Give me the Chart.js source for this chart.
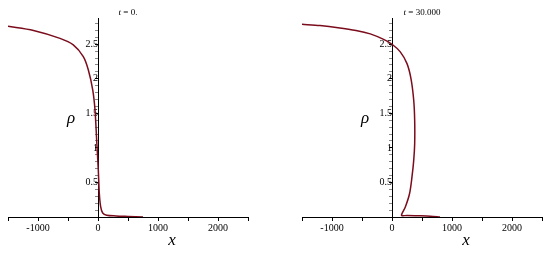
<!DOCTYPE html>
<html lang="en">
<head>
    <meta charset="utf-8"/>
    <script src="https://cdn.jsdelivr.net/npm/chart.js@4.4.0/dist/chart.umd.min.js"></script>
    <style>
        body { margin: 0; background: #fff; }
        canvas { position: absolute; top: 0; }
    </style>
</head>
<body>
    <canvas id="left" width="275" height="257" style="left:0px"></canvas>
    <canvas id="right" width="275" height="257" style="left:275px"></canvas>
    <script>
        // t = 0.
        const x0 = [-1500, -1075, -633, -412, -245, -162, -88, -50, -22, 5, 22, 45, 78, 145, 300, 500, 750];
        const rho0 = [2.76, 2.70, 2.585, 2.49, 2.32, 2.13, 1.84, 1.55, 1.11, 0.68, 0.34, 0.145, 0.058, 0.025, 0.015, 0.008, 0.0];
        // t = 30.000
        const x30 = [-1500, -1200, -900, -600, -362, -140, 0, 138, 250, 317, 362, 378, 378, 362, 333, 293, 222, 167, 160, 250, 450, 640, 800];
        const rho30 = [2.79, 2.77, 2.74, 2.70, 2.65, 2.57, 2.50, 2.39, 2.22, 2.0, 1.69, 1.40, 1.06, 0.82, 0.58, 0.34, 0.145, 0.05, 0.02, 0.022, 0.018, 0.012, 0.0];

        const xTicksMin = -1500, xTicksMax = 2500;
        const rhoMax = 2.88;

        const serif = "'Liberation Serif', 'DejaVu Serif', serif";

        // titles and axis names
        const labelsPlugin = {
            id: 'maple',
            afterDraw(chart, args, opts) {
                const ctx = chart.ctx;
                const xs = chart.scales.x, ys = chart.scales.y;
                ctx.save();
                ctx.fillStyle = '#000';
                ctx.textBaseline = 'middle';

                // title: italic t, then the rest
                ctx.font = 'italic 9px ' + serif;
                const wt = ctx.measureText('t').width;
                ctx.font = '9px ' + serif;
                const rest = ' = ' + opts.time;
                const wr = ctx.measureText(rest).width;
                let tx = xs.getPixelForValue(500) - (wt + wr) / 2;
                ctx.textAlign = 'left';
                ctx.font = 'italic 9px ' + serif;
                ctx.fillText('t', tx, 13);
                ctx.font = '9px ' + serif;
                ctx.fillText(rest, tx + wt, 13);

                ctx.textAlign = 'center';
                ctx.font = 'italic 17px ' + serif;
                ctx.fillText('\u03C1', xs.getPixelForValue(-450), ys.getPixelForValue(1.43));
                ctx.fillText('x', xs.getPixelForValue(1233), ys.getPixelForValue(0) + 24);
                ctx.restore();
            }
        };

        function makeChart(id, xs, ys, time, pad) {
            const points = xs.map((v, i) => ({x: v, y: ys[i]}));
            return new Chart(document.getElementById(id), {
                type: 'scatter',
                data: {
                    datasets: [{
                        data: points,
                        showLine: true,
                        borderColor: '#7b0c1c',
                        borderWidth: 1.5,
                        pointRadius: 0,
                        tension: 0.3
                    }]
                },
                options: {
                    responsive: false,
                    animation: false,
                    layout: { padding: pad },
                    plugins: {
                        legend: { display: false },
                        tooltip: { enabled: false },
                        maple: { time: time }
                    },
                    scales: {
                        x: {
                            type: 'linear',
                            position: { y: 0 },
                            min: xTicksMin,
                            max: xTicksMax,
                            border: { display: true, color: '#000', width: 1 },
                            grid: { drawOnChartArea: false, tickLength: 3, color: '#000' },
                            ticks: {
                                stepSize: 500,
                                maxRotation: 0,
                                autoSkip: false,
                                padding: 2,
                                color: '#000',
                                font: { family: serif, size: 10 },
                                callback: v => (v % 1000 === 0 ? String(v) : '')
                            }
                        },
                        y: {
                            type: 'linear',
                            position: { x: 0 },
                            min: 0,
                            max: rhoMax,
                            border: { display: true, color: '#000', width: 1 },
                            grid: {
                                drawOnChartArea: false,
                                tickLength: 3,
                                color: ctx => {
                                    const v = ctx.tick ? ctx.tick.value : 0;
                                    return Math.abs(v * 2 - Math.round(v * 2)) < 1e-6 ? '#000' : '#888';
                                }
                            },
                            ticks: {
                                stepSize: 0.1,
                                includeBounds: false,
                                autoSkip: false,
                                padding: 1,
                                color: '#000',
                                font: { family: serif, size: 10 },
                                callback: v => {
                                    if (v < 0.01) return '';
                                    return Math.abs(v * 2 - Math.round(v * 2)) < 1e-6 ? String(Math.round(v * 2) / 2) : '';
                                }
                            }
                        }
                    }
                },
                plugins: [labelsPlugin]
            });
        }

        makeChart('left', x0, rho0, '0.', { left: 8, right: 27, top: 18, bottom: 40 });
        makeChart('right', x30, rho30, '30.000', { left: 27, right: 8, top: 18, bottom: 40 });
    </script>
</body>
</html>
